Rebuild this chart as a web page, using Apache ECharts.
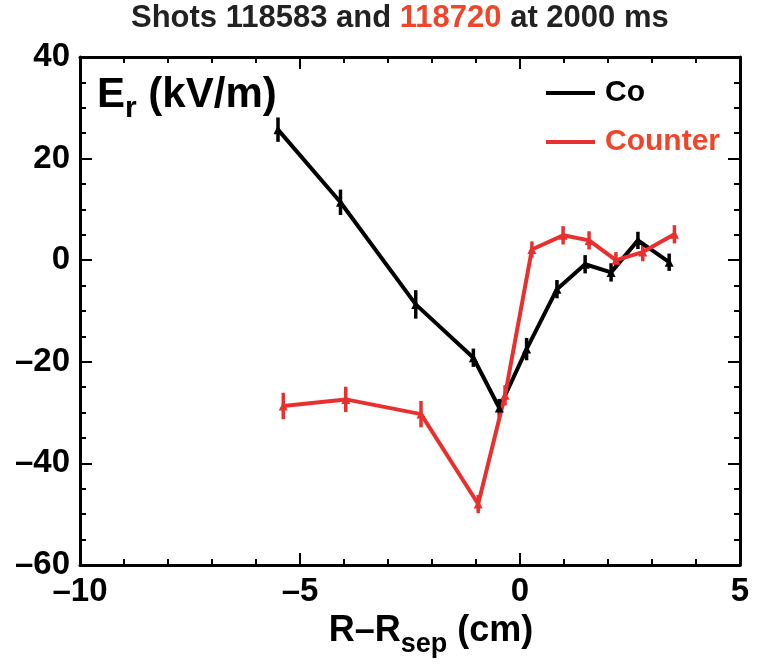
<!DOCTYPE html>
<html>
<head>
<meta charset="utf-8">
<script src="https://cdn.jsdelivr.net/npm/echarts@6/dist/echarts.min.js"></script>
<style>html,body{margin:0;padding:0;background:#fff}#main{width:758px;height:664px}</style>
</head>
<body>
<div id="main"></div>
<script>
// shot 118583 (Co)
var coX = [-5.5, -4.08, -2.37, -1.06, -0.47, 0.15, 0.84, 1.48, 2.07, 2.68, 3.39];
var coY = [25.7, 11.4, -8.7, -19.2, -29.1, -17.5, -5.7, -0.8, -2.4, 3.9, -0.4];
var coErr = [2.4, 2.5, 2.8, 1.8, 1.8, 2.2, 1.8, 1.8, 1.8, 1.7, 1.7];
// shot 118720 (Counter)
var ctX = [-5.38, -3.96, -2.25, -0.95, -0.34, 0.27, 0.98, 1.57, 2.18, 2.79, 3.51];
var ctY = [-28.7, -27.4, -30.3, -48.0, -26.6, 2.1, 4.9, 3.9, 0.0, 1.6, 5.1];
var ctErr = [2.6, 2.5, 2.6, 1.8, 2.0, 1.6, 1.8, 1.8, 1.6, 1.8, 1.8];

var FONT = '"Liberation Sans", Arial, sans-serif';
var RED = '#e8312f';
var RED_TXT = '#f0452b';

function dash(v){ return String(v).replace('-', '\u2013'); }

function pts(xs, ys){
	return xs.map(function(x, i){ return [x, ys[i]]; });
}

// 误差棒
function errBars(xs, ys, es, color){
	return {
		type: 'custom',
		silent: true,
		z: 3,
		data: xs.map(function(x, i){ return [x, ys[i] - es[i], ys[i] + es[i]]; }),
		renderItem: function(params, api){
			var lo = api.coord([api.value(0), api.value(1)]);
			var hi = api.coord([api.value(0), api.value(2)]);
			return {
				type: 'line',
				shape: {x1: lo[0], y1: lo[1], x2: hi[0], y2: hi[1]},
				style: {stroke: color, lineWidth: 3.5}
			};
		}
	};
}

function axisCommon(show){
	return {
		axisLine: {show: true, onZero: false, lineStyle: {color: '#000', width: 3}},
		axisTick: {show: true, inside: true, length: 12, lineStyle: {color: '#000', width: 2}},
		minorTick: {show: true, length: 6, lineStyle: {color: '#000', width: 2}},
		splitLine: {show: false},
		axisLabel: {show: show}
	};
}

var myChart = echarts.init(document.getElementById('main'));

var xb = axisCommon(true);
xb.type = 'value'; xb.min = -10; xb.max = 5; xb.interval = 5; xb.position = 'bottom';
xb.minorTick.splitNumber = 5;
xb.axisLabel = {show: true, margin: 10, color: '#000', fontFamily: FONT, fontWeight: 'bold', fontSize: 33, formatter: dash};
xb.name = '{a|R\u2013R}{s|sep}{a| (cm)}';
xb.nameLocation = 'middle';
xb.nameGap = 44;
xb.nameTextStyle = {
	padding: [0, 0, 0, 42],
	rich: {
		a: {fontFamily: FONT, fontWeight: 'bold', fontSize: 36, color: '#000', verticalAlign: 'top', lineHeight: 38},
		s: {fontFamily: FONT, fontWeight: 'bold', fontSize: 27, color: '#000', verticalAlign: 'top', lineHeight: 29, padding: [18, 0, 0, 0]}
	}
};

var xt = axisCommon(false);
xt.type = 'value'; xt.min = -10; xt.max = 5; xt.interval = 5; xt.position = 'top';
xt.minorTick.splitNumber = 5;

var yl = axisCommon(true);
yl.type = 'value'; yl.min = -60; yl.max = 40; yl.interval = 20; yl.position = 'left';
yl.minorTick.splitNumber = 4;
yl.axisLabel = {show: true, margin: 10, color: '#000', fontFamily: FONT, fontWeight: 'bold', fontSize: 33, formatter: dash};

var yr = axisCommon(false);
yr.type = 'value'; yr.min = -60; yr.max = 40; yr.interval = 20; yr.position = 'right';
yr.minorTick.splitNumber = 4;

var option = {
	animation: false,
	backgroundColor: '#fff',
	grid: {left: 80, right: 18, top: 57, bottom: 99, show: false},
	xAxis: [xb, xt],
	yAxis: [yl, yr],
	legend: {
		orient: 'vertical',
		left: 541,
		top: 71,
		icon: 'rect',
		itemWidth: 49,
		itemHeight: 4,
		itemGap: 15,
		textStyle: {fontFamily: FONT, fontWeight: 'bold', fontSize: 30, lineHeight: 34, padding: [0, 0, 0, 5]},
		data: [
			{name: 'Co', textStyle: {color: '#000'}},
			{name: 'Counter', textStyle: {color: RED_TXT}}
		]
	},
	graphic: [
		{
			type: 'text', left: 131, top: 3, z: 10,
			style: {
				text: '{a|Shots 118583 and }{b|118720}{a| at 2000 ms}',
				rich: {
					a: {fontFamily: FONT, fontWeight: 'bold', fontSize: 31, fill: '#222'},
					b: {fontFamily: FONT, fontWeight: 'bold', fontSize: 31, fill: RED_TXT}
				}
			}
		},
		{
			type: 'text', left: 97, top: 74, z: 10,
			style: {
				text: '{a|E}{s|r}{a| (kV/m)}',
				rich: {
					a: {fontFamily: FONT, fontWeight: 'bold', fontSize: 42, fill: '#000', verticalAlign: 'top', lineHeight: 44},
					s: {fontFamily: FONT, fontWeight: 'bold', fontSize: 30, fill: '#000', verticalAlign: 'top', lineHeight: 32, padding: [20, 0, 0, 0]}
				}
			}
		}
	],
	series: [
		{
			name: 'Co', type: 'line', data: pts(coX, coY), z: 4,
			symbol: 'triangle', symbolSize: 9,
			itemStyle: {color: '#000'},
			lineStyle: {color: '#000', width: 4}
		},
		{
			name: 'Counter', type: 'line', data: pts(ctX, ctY), z: 4,
			symbol: 'triangle', symbolSize: 9,
			itemStyle: {color: RED},
			lineStyle: {color: RED, width: 4}
		},
		errBars(coX, coY, coErr, '#000'),
		errBars(ctX, ctY, ctErr, RED)
	]
};
myChart.setOption(option);
</script>
</body>
</html>
